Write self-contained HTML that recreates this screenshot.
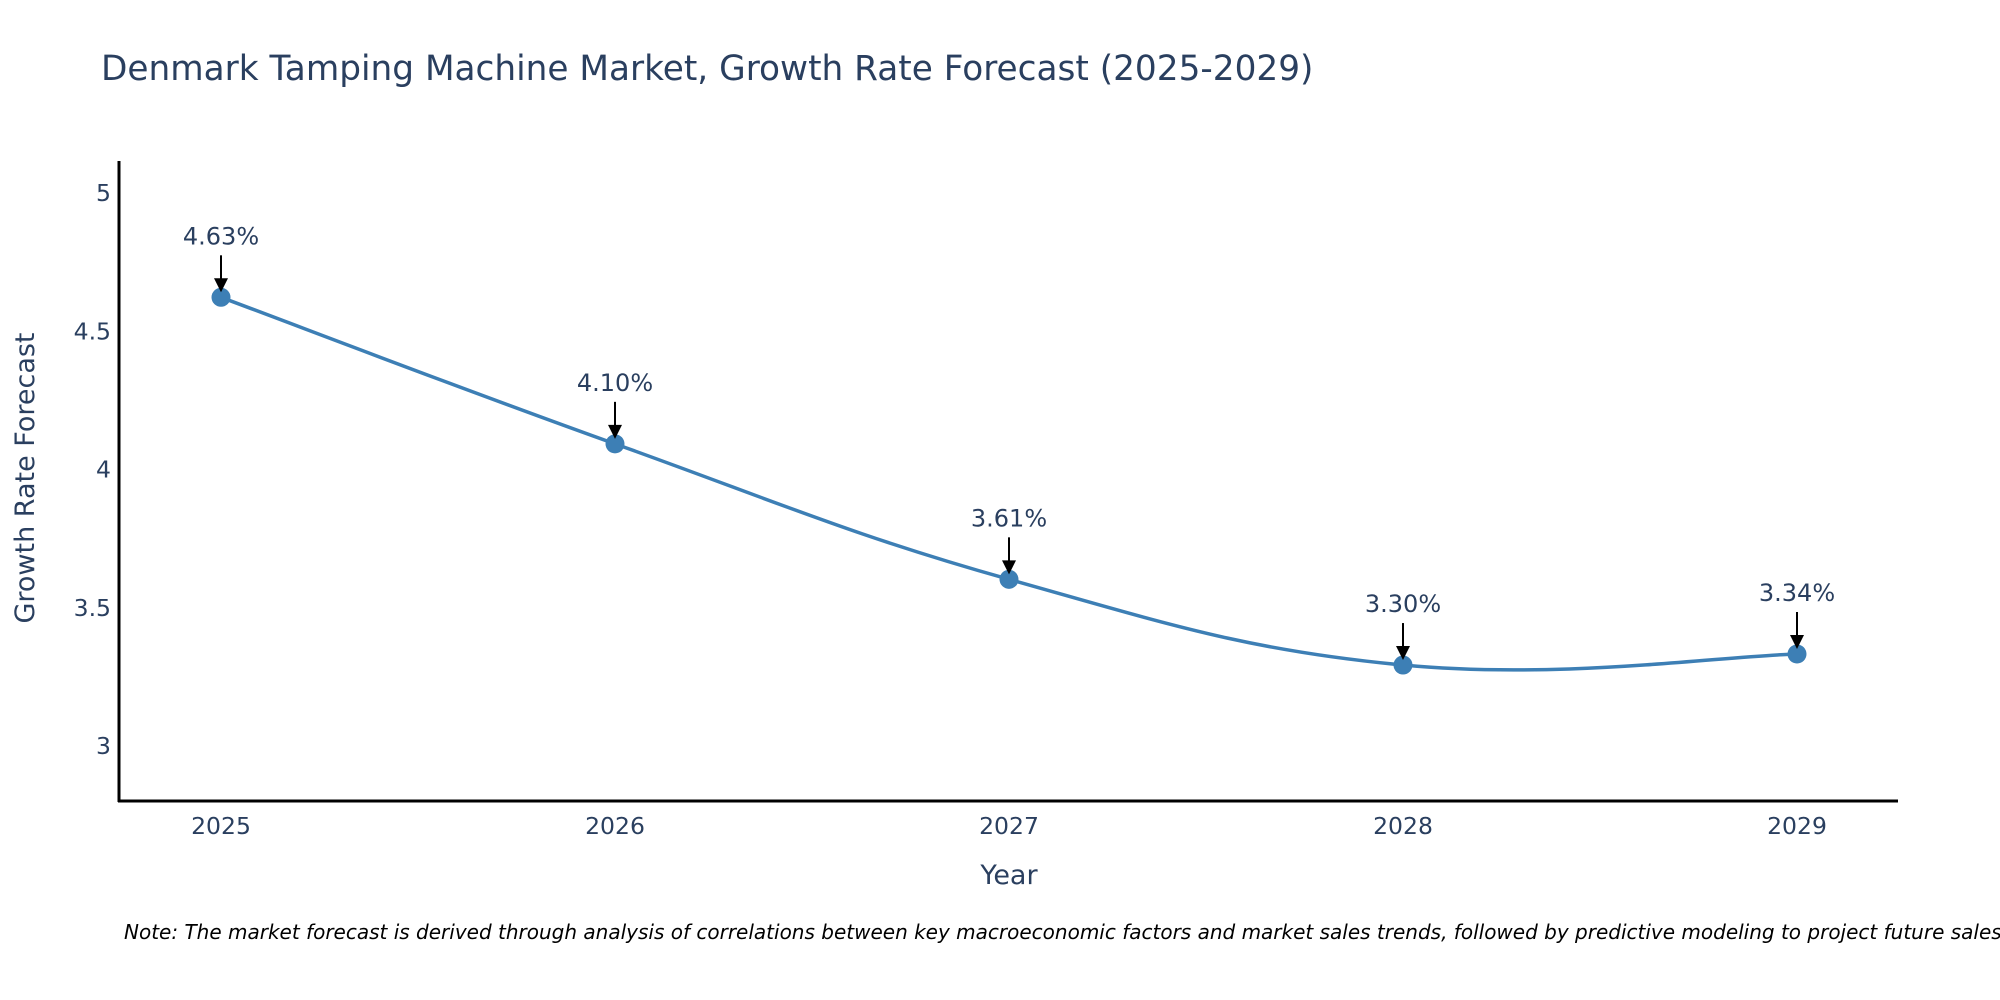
<!DOCTYPE html>
<html><head><meta charset="utf-8"><style>
html,body{margin:0;padding:0;background:#fff;overflow:hidden;}
svg{display:block;font-family:"DejaVu Sans","Liberation Sans",sans-serif;}
</style></head><body>
<svg id="chart" width="2000" height="1000">
<text x="101" y="80" font-size="34.3" fill="#2a3f5f">Denmark Tamping Machine Market, Growth Rate Forecast (2025-2029)</text>
<g id="yticks"></g><g id="xticks"></g>
<line x1="119" y1="161" x2="119" y2="802" stroke="#000" stroke-width="3"/>
<line x1="118" y1="801" x2="1898" y2="801" stroke="#000" stroke-width="3"/>
<path id="line" fill="none" stroke="#3d7fb5" stroke-width="3.5"/>
<g id="marks"></g>
<text x="1009" y="884" font-size="27" fill="#2a3f5f" text-anchor="middle">Year</text>
<text transform="translate(34,478) rotate(-90)" font-size="27" fill="#2a3f5f" text-anchor="middle">Growth Rate Forecast</text>
<text x="124" y="939" font-size="20" font-style="italic" fill="#000">Note: The market forecast is derived through analysis of correlations between key macroeconomic factors and market sales trends, followed by predictive modeling to project future sales.</text>
</svg>
<script>
const years=["2025","2026","2027","2028","2029"];
const values=[4.63,4.10,3.61,3.30,3.34];
const labels=["4.63%","4.10%","3.61%","3.30%","3.34%"];
const yTicks=[3,3.5,4,4.5,5];
const yTickLabels=["3","3.5","4","4.5","5"];
const NS="http://www.w3.org/2000/svg";
function xs(i){return 221+i*394;}
function ys(v){return 748-(v-3)*276.5;}
function mk(t,a,p){const e=document.createElementNS(NS,t);for(const k in a)e.setAttribute(k,a[k]);p.appendChild(e);return e;}
const yt=document.getElementById('yticks');
yTicks.forEach((v,i)=>{const t=mk('text',{x:111,y:ys(v)+6,'font-size':23.5,fill:'#2a3f5f','text-anchor':'end'},yt);


t.textContent=yTickLabels[i];});
const xt=document.getElementById('xticks');
years.forEach((y,i)=>{const t=mk('text',{x:xs(i),y:834,'font-size':23.5,fill:'#2a3f5f','text-anchor':'middle'},xt);


t.textContent=y;});
const P=values.map((v,i)=>[xs(i),ys(v)]);
let d='M'+P[0][0]+','+P[0][1];const s=0.2;
for(let i=0;i<P.length-1;i++){const p0=P[Math.max(0,i-1)],p1=P[i],p2=P[i+1],p3=P[Math.min(P.length-1,i+2)];
d+=' C'+(p1[0]+(p2[0]-p0[0])*s)+','+(p1[1]+(p2[1]-p0[1])*s)+' '+(p2[0]-(p3[0]-p1[0])*s)+','+(p2[1]-(p3[1]-p1[1])*s)+' '+p2[0]+','+p2[1];}
document.getElementById('line').setAttribute('d',d);
const g=document.getElementById('marks');
P.forEach((p,i)=>{
const c=mk('circle',{cx:p[0],cy:p[1],r:9.5,fill:'#3d7fb5'},g);


const l=mk('line',{x1:p[0],y1:p[1]-42,x2:p[0],y2:p[1]-18,stroke:'#000','stroke-width':2},g);


const a=mk('path',{d:'M'+(p[0]-7)+','+(p[1]-19)+' L'+(p[0]+7)+','+(p[1]-19)+' L'+p[0]+','+(p[1]-5)+' Z',fill:'#000'},g);


const t=mk('text',{x:p[0],y:p[1]-53,'font-size':24,fill:'#2a3f5f','text-anchor':'middle'},g);


t.textContent=labels[i];});
</script>
</body></html>
